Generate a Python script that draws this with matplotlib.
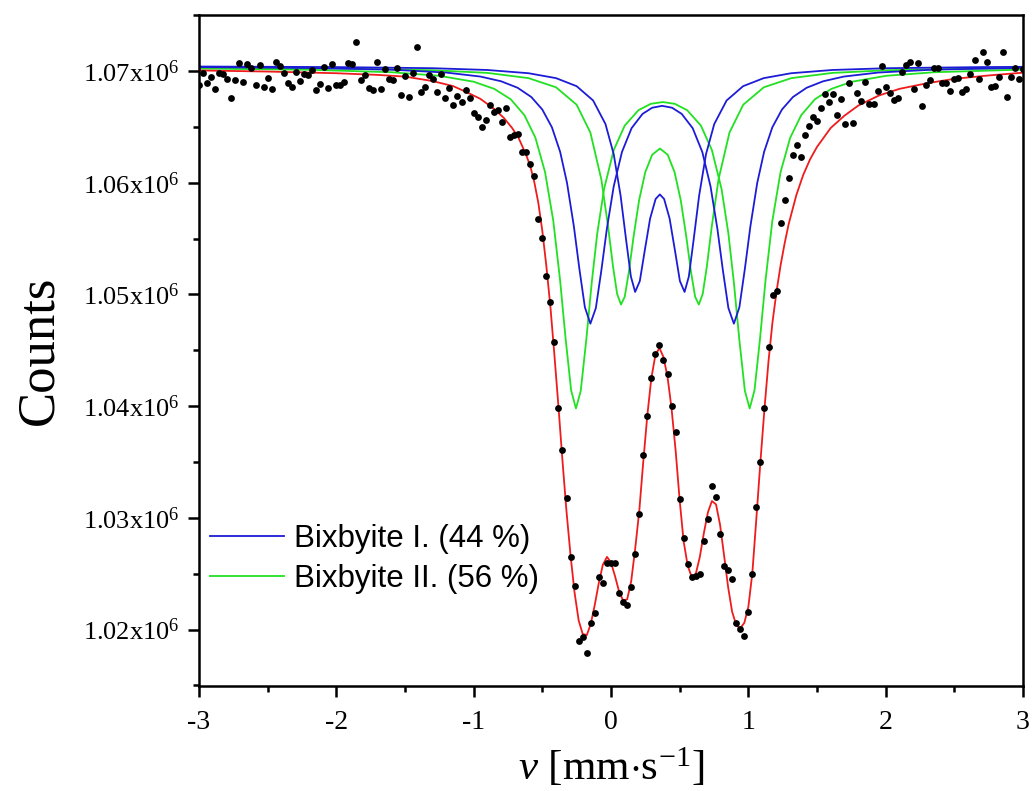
import matplotlib
matplotlib.use('Agg')
import matplotlib.pyplot as plt
from matplotlib.ticker import MultipleLocator, FuncFormatter
import numpy as np

# measured spectrum: 205 velocity channels from -3 to 3 mm/s, counts in units of 1000
n_channels = 205
velocity = np.linspace(-3.0, 3.0, n_channels)
counts = [
    1068.75, 1069.79, 1068.90, 1069.49, 1068.39, 1069.79, 1069.73, 1069.26, 1067.56, 1069.20,
    1070.74, 1068.98, 1070.63, 1070.24, 1068.75, 1070.56, 1068.54, 1069.35, 1068.36, 1070.81,
    1070.47, 1069.85, 1068.95, 1068.60, 1069.94, 1069.13, 1069.76, 1069.64, 1070.09, 1068.30,
    1068.80, 1070.39, 1068.50, 1070.60, 1068.75, 1068.75, 1068.99, 1070.69, 1070.60, 1072.62,
    1069.19, 1069.64, 1068.45, 1068.30, 1070.83, 1068.36, 1070.15, 1069.28, 1069.20, 1070.24,
    1067.85, 1069.58, 1067.65, 1069.79, 1072.18, 1068.09, 1068.60, 1069.64, 1069.26, 1068.09,
    1069.76, 1067.56, 1068.51, 1066.96, 1067.79, 1067.20, 1068.30, 1067.60, 1066.21, 1065.90,
    1064.96, 1065.59, 1066.93, 1066.37, 1066.53, 1065.46, 1066.71, 1064.11, 1064.27, 1064.33,
    1062.77, 1062.79, 1061.70, 1060.56, 1056.74, 1055.01, 1051.63, 1049.34, 1045.76, 1039.87,
    1036.10, 1031.75, 1026.48, 1023.88, 1019.00, 1019.30, 1017.90, 1020.55, 1021.45, 1024.67,
    1024.14, 1025.98, 1025.98, 1025.98, 1023.30, 1022.49, 1022.19, 1023.83, 1026.73, 1030.31,
    1035.62, 1039.11, 1042.54, 1044.64, 1045.47, 1044.13, 1042.87, 1040.00, 1037.65, 1031.66,
    1028.16, 1025.86, 1024.67, 1024.79, 1024.97, 1027.95, 1029.92, 1032.87, 1031.83, 1028.55,
    1025.68, 1025.33, 1024.50, 1020.61, 1020.02, 1019.45, 1021.57, 1024.97, 1030.94, 1034.99,
    1039.83, 1045.26, 1049.95, 1050.34, 1056.36, 1058.44, 1060.42, 1062.48, 1063.40, 1062.26,
    1064.28, 1065.06, 1065.87, 1065.52, 1066.65, 1067.92, 1067.22, 1067.92, 1066.05, 1067.48,
    1065.24, 1068.92, 1065.34, 1068.00, 1067.30, 1069.05, 1067.05, 1067.08, 1068.23, 1070.46,
    1068.57, 1068.03, 1067.43, 1067.56, 1069.94, 1070.54, 1070.78, 1068.39, 1070.69, 1066.87,
    1068.75, 1069.19, 1070.24, 1070.24, 1068.95, 1068.95, 1068.21, 1069.28, 1069.35, 1068.09,
    1068.39, 1069.73, 1070.98, 1069.26, 1071.73, 1070.78, 1068.60, 1068.66, 1069.49, 1071.67,
    1067.70, 1069.44, 1070.24, 1069.30, 1070.20,
]

# total fit (red)
fit_v = [-3.0, -2.5, -2.0, -1.7, -1.5, -1.3, -1.15, -1.05, -0.95, -0.85, -0.78, -0.72,
         -0.676, -0.647, -0.618, -0.588, -0.559, -0.529, -0.5, -0.471, -0.441, -0.412,
         -0.382, -0.353, -0.324, -0.294, -0.265, -0.235, -0.206, -0.176, -0.147, -0.118,
         -0.088, -0.059, -0.029, 0.0, 0.029, 0.059, 0.088, 0.118, 0.147, 0.176,
         0.206, 0.235, 0.265, 0.294, 0.324, 0.353, 0.382, 0.412, 0.441, 0.471,
         0.5, 0.529, 0.559, 0.588, 0.618, 0.647, 0.676, 0.706, 0.735, 0.765,
         0.794, 0.824, 0.853, 0.882, 0.912, 0.941, 0.971, 1.0, 1.029, 1.059,
         1.088, 1.118, 1.147, 1.176, 1.206, 1.235, 1.265, 1.294,
         1.35, 1.4, 1.45, 1.5, 1.6, 1.7, 1.8, 1.95, 2.1, 2.3, 2.5, 2.75, 3.0]
fit_c = [1070.05, 1069.95, 1069.8, 1069.65, 1069.5, 1069.1, 1068.65, 1068.1, 1067.5, 1066.6, 1065.8, 1064.9,
         1064.1, 1063.3, 1062.5, 1061.5, 1060.1, 1058.2, 1055.7, 1052.6, 1048.9, 1044.6,
         1039.9, 1035.1, 1030.6, 1026.6, 1023.3, 1020.8, 1019.6, 1019.5, 1020.5, 1022.2,
         1024.2, 1025.8, 1026.5, 1026.0, 1024.8, 1023.4, 1022.6, 1022.7, 1024.3, 1027.2,
         1030.6, 1035.0, 1039.2, 1042.5, 1044.6, 1045.2, 1044.4, 1042.6, 1039.8, 1036.0,
         1031.6, 1027.9, 1025.7, 1024.7, 1025.0, 1026.5, 1028.6, 1030.5, 1031.5, 1031.2,
         1029.4, 1026.6, 1023.8, 1021.6, 1020.4, 1020.1, 1020.6, 1022.0, 1025.0, 1030.0,
         1035.0, 1039.8, 1044.0, 1047.5, 1050.3, 1052.6, 1054.6, 1056.3,
         1058.9, 1060.7, 1062.1, 1063.2, 1064.9, 1066.0, 1066.9, 1067.8, 1068.4, 1068.9, 1069.3, 1069.6, 1069.85]

# Bixbyite I, outer doublet (blue)
b1_v = [-3.0, -2.2, -1.6, -1.2, -0.95, -0.8, -0.68, -0.58, -0.5, -0.43, -0.37, -0.32, -0.27, -0.23,
        -0.19, -0.15, -0.11, -0.07, -0.03, 0.02, 0.08, 0.15, 0.23, 0.30, 0.3725, 0.445, 0.515, 0.595,
        0.665, 0.725, 0.775, 0.815, 0.855, 0.895, 0.935, 0.975, 1.015, 1.065, 1.115, 1.175, 1.245,
        1.325, 1.425, 1.545, 1.695, 1.945, 2.345, 2.945, 3.0]
b1_c = [1070.35, 1070.27, 1070.12, 1069.86, 1069.5, 1069.08, 1068.5, 1067.67, 1066.55, 1064.96, 1062.76,
        1059.98, 1056.08, 1052.29, 1048.85, 1047.38, 1048.78, 1052.15, 1055.86, 1059.67, 1062.75, 1064.88,
        1066.16, 1066.71, 1066.88, 1066.71, 1066.16, 1064.88, 1062.75, 1059.67, 1055.86, 1052.15, 1048.78,
        1047.38, 1048.85, 1052.29, 1056.08, 1059.98, 1062.76, 1064.96, 1066.55, 1067.67, 1068.5, 1069.08,
        1069.5, 1069.86, 1070.12, 1070.27, 1070.28]

# Bixbyite I, inner doublet (blue)
b2_v = [-3.0, -2.0, -1.3, -0.9, -0.6, -0.4, -0.25, -0.13, -0.04, 0.02, 0.07, 0.11, 0.145, 0.176, 0.21,
        0.245, 0.285, 0.325, 0.356, 0.387, 0.427, 0.467, 0.502, 0.536, 0.567, 0.602, 0.642, 0.692, 0.752,
        0.842, 0.962, 1.112, 1.312, 1.612, 2.012, 2.712, 3.0]
b2_c = [1070.40, 1070.35, 1070.25, 1070.09, 1069.8, 1069.36, 1068.64, 1067.36, 1065.25, 1062.55, 1058.85,
        1054.9, 1051.6, 1050.22, 1051.19, 1053.85, 1056.79, 1058.54, 1058.95, 1058.54, 1056.79, 1053.85,
        1051.19, 1050.22, 1051.6, 1054.9, 1058.85, 1062.55, 1065.25, 1067.36, 1068.64, 1069.36, 1069.8,
        1070.09, 1070.25, 1070.35, 1070.37]

# Bixbyite II, outer doublet (green)
g1_v = [-3.0, -2.2, -1.6, -1.25, -1.0, -0.85, -0.73, -0.63, -0.55, -0.48, -0.42, -0.37, -0.33, -0.29,
        -0.255, -0.22, -0.18, -0.14, -0.1, -0.05, 0.02, 0.1, 0.2, 0.29, 0.3775, 0.465, 0.555, 0.655,
        0.735, 0.805, 0.855, 0.895, 0.935, 0.975, 1.01, 1.045, 1.085, 1.125, 1.175, 1.235, 1.305, 1.385,
        1.485, 1.605, 1.755, 2.005, 2.355, 2.955, 3.0]
g1_c = [1070.22, 1070.11, 1069.89, 1069.57, 1069.04, 1068.4, 1067.47, 1066.04, 1064.02, 1060.95, 1056.59,
        1051.21, 1046.0, 1041.41, 1039.79, 1041.37, 1045.9, 1051.06, 1055.45, 1059.45, 1062.92, 1065.11,
        1066.49, 1067.06, 1067.22, 1067.06, 1066.49, 1065.11, 1062.92, 1059.45, 1055.45, 1051.06, 1045.9,
        1041.37, 1039.79, 1041.41, 1046.0, 1051.21, 1056.59, 1060.95, 1064.02, 1066.04, 1067.47, 1068.4,
        1069.04, 1069.57, 1069.89, 1070.11, 1070.12]

# Bixbyite II, inner doublet (green)
g2_v = [-3.0, -2.0, -1.3, -0.9, -0.6, -0.4, -0.25, -0.15, -0.07, -0.02, 0.015, 0.045, 0.073, 0.1, 0.13,
        0.165, 0.205, 0.25, 0.3, 0.3565, 0.413, 0.463, 0.508, 0.548, 0.583, 0.613, 0.64, 0.668, 0.698,
        0.733, 0.783, 0.863, 0.963, 1.113, 1.313, 1.613, 2.013, 2.713, 3.0]
g2_c = [1070.29, 1070.22, 1070.07, 1069.83, 1069.36, 1068.54, 1066.98, 1064.49, 1060.29, 1055.99, 1052.49,
        1050.04, 1049.09, 1049.78, 1051.99, 1055.21, 1058.44, 1060.95, 1062.5, 1063.06, 1062.5, 1060.95,
        1058.44, 1055.21, 1051.99, 1049.78, 1049.09, 1050.04, 1052.49, 1055.99, 1060.29, 1064.49, 1066.98,
        1068.54, 1069.36, 1069.83, 1070.07, 1070.22, 1070.24]

labels = ['Bixbyite I. (44 %)', 'Bixbyite II. (56 %)']

plt.rcParams['font.family'] = ['Liberation Serif', 'DejaVu Serif']
plt.rcParams['mathtext.fontset'] = 'custom'
plt.rcParams['mathtext.rm'] = 'Liberation Serif'
plt.rcParams['mathtext.it'] = 'Liberation Serif:italic'

fig = plt.figure(figsize=(10.33, 7.91), dpi=100)
ax = fig.add_axes([0.1926, 0.1327, 0.7977, 0.8483])

k = 1e3
blue = '#1c1cd6'
green = '#22e022'
ax.plot(g1_v, np.array(g1_c) * k, color=green, lw=1.3)
ax.plot(g2_v, np.array(g2_c) * k, color=green, lw=1.3)
lb, = ax.plot(b1_v, np.array(b1_c) * k, color=blue, lw=1.3)
ax.plot(b2_v, np.array(b2_c) * k, color=blue, lw=1.3)
lg, = ax.plot([], [], color=green, lw=1.3)
ax.plot(fit_v, np.array(fit_c) * k, color='#ee1c1c', lw=1.3)
ax.plot(velocity, np.array(counts) * k, 'o', color='black', ms=4.9, mew=0)

ax.set_xlim(-3, 3)
ax.set_ylim(1.01494e6, 1.07501e6)

ax.xaxis.set_major_locator(MultipleLocator(1))
ax.xaxis.set_minor_locator(MultipleLocator(0.5))
ax.yaxis.set_major_locator(MultipleLocator(10000))
ax.yaxis.set_minor_locator(MultipleLocator(5000))
ax.xaxis.set_major_formatter(FuncFormatter(lambda x, p: '%d' % round(x)))
ax.yaxis.set_major_formatter(FuncFormatter(lambda y, p: '%.2fx10$^{6}$' % (y / 1e6)))

ax.tick_params(which='both', direction='out', top=False, right=False, width=1.8)
ax.tick_params(which='major', length=8)
ax.tick_params(which='minor', length=4.5)
ax.tick_params(axis='y', which='major', labelsize=19, pad=6)
ax.tick_params(axis='x', which='major', labelsize=20, pad=9)
for s in ax.spines.values():
    s.set_linewidth(1.8)

ax.set_ylabel('Counts', fontsize=38)
ax.yaxis.set_label_coords(-0.165, 0.5)
ax.set_xlabel(r'$v$ [mm$\cdot$s$^{-1}$]', fontsize=31, labelpad=8)

leg = ax.legend([lb, lg], labels, loc='upper left', bbox_to_anchor=(0.013, 0.2414),
                frameon=False, borderpad=0, borderaxespad=0, handlelength=2.37,
                handletextpad=0.32, labelspacing=0.33,
                prop={'family': 'Liberation Sans', 'size': 22.5})

fig.savefig('out.png', dpi=100)
